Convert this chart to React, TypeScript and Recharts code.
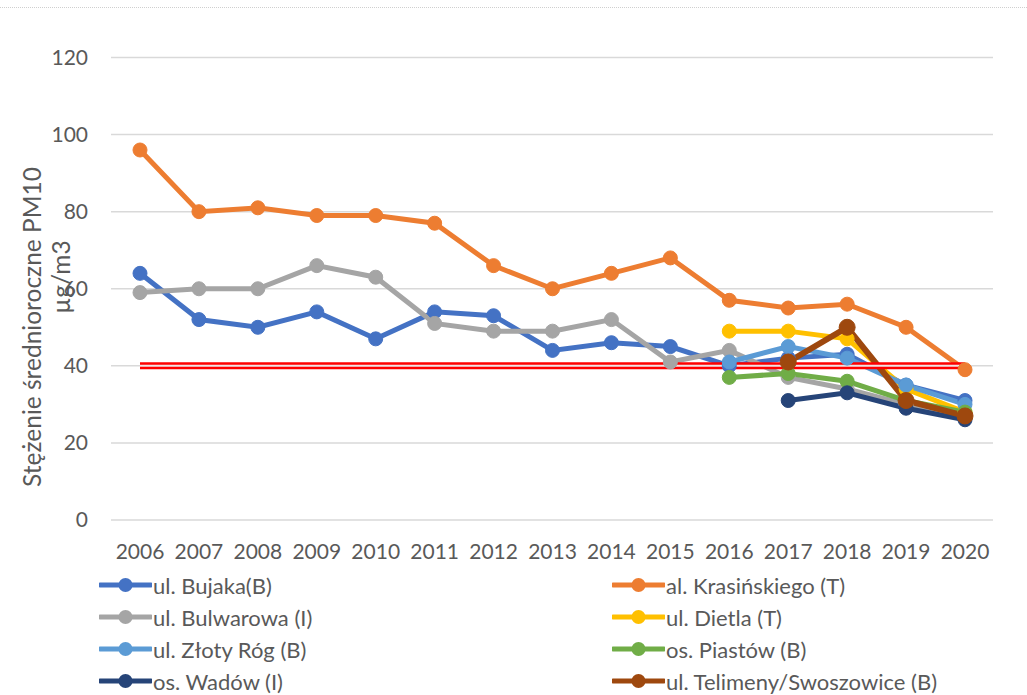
import React from "react";
import { CartesianGrid, Line, LineChart, XAxis, YAxis } from "recharts";

const years = [
  "2006", "2007", "2008", "2009", "2010", "2011", "2012", "2013",
  "2014", "2015", "2016", "2017", "2018", "2019", "2020",
];

const bujaka = [64, 52, 50, 54, 47, 54, 53, 44, 46, 45, 40, 42, 43, 35, 31];
const krasinskiego = [96, 80, 81, 79, 79, 77, 66, 60, 64, 68, 57, 55, 56, 50, 39];
const bulwarowa = [59, 60, 60, 66, 63, 51, 49, 49, 52, 41, 44, 37, 34, 30, 27];
const dietla = [null, null, null, null, null, null, null, null, null, null, 49, 49, 47, 34, 28];
const zlotyRog = [null, null, null, null, null, null, null, null, null, null, 41, 45, 42, 35, 30];
const piastow = [null, null, null, null, null, null, null, null, null, null, 37, 38, 36, 31, 28];
const wadow = [null, null, null, null, null, null, null, null, null, null, null, 31, 33, 29, 26];
const telimeny = [null, null, null, null, null, null, null, null, null, null, null, 41, 50, 31, 27];
const limit = [40, 40, 40, 40, 40, 40, 40, 40, 40, 40, 40, 40, 40, 40, 40];

const yTicks = [0, 20, 40, 60, 80, 100, 120];

const series = [
  { key: "bujaka", name: "ul. Bujaka(B)", color: "#4472C4", values: bujaka },
  { key: "krasinskiego", name: "al. Krasińskiego (T)", color: "#ED7D31", values: krasinskiego },
  { key: "bulwarowa", name: "ul. Bulwarowa (I)", color: "#A5A5A5", values: bulwarowa },
  { key: "dietla", name: "ul. Dietla (T)", color: "#FFC000", values: dietla },
  { key: "zlotyRog", name: "ul. Złoty Róg (B)", color: "#5B9BD5", values: zlotyRog },
  { key: "piastow", name: "os. Piastów (B)", color: "#70AD47", values: piastow },
  { key: "wadow", name: "os. Wadów (I)", color: "#264478", values: wadow },
  { key: "telimeny", name: "ul. Telimeny/Swoszowice (B)", color: "#9E480E", values: telimeny },
];

const data = years.map((year, i) => {
  const row: Record<string, string | number | null> = { year, limit: limit[i] };
  series.forEach((s) => {
    row[s.key] = s.values[i];
  });
  return row;
});

const font = "Lato, 'Open Sans', sans-serif";
const textColor = "#595959";

function AxisTitle() {
  return (
    <g>
      <text
        x={31}
        y={327}
        transform="rotate(-90 31 327)"
        textAnchor="middle"
        dominantBaseline="central"
        fill={textColor}
        fontSize={24.5}
        fontFamily={font}
      >
        Stężenie średnioroczne PM10
      </text>
      <text
        x={60}
        y={277}
        transform="rotate(-90 60 277)"
        textAnchor="middle"
        dominantBaseline="central"
        fill={textColor}
        fontSize={24.5}
        fontFamily={font}
      >
        µg/m3
      </text>
    </g>
  );
}

function LegendBox() {
  return (
    <div
      style={{
        position: "absolute",
        left: 0,
        top: 569,
        width: 1027,
        display: "grid",
        gridTemplateColumns: "512px 515px",
        fontFamily: font,
        fontSize: 22,
        color: textColor,
      }}
    >
      {series.map((s, i) => (
        <div
          key={s.key}
          style={{
            display: "flex",
            alignItems: "center",
            height: 32,
            paddingLeft: i % 2 === 0 ? 99 : 100,
          }}
        >
          <svg width={53} height={20} style={{ marginRight: 1 }}>
            <line x1={1} y1={10} x2={52} y2={10} stroke={s.color} strokeWidth={5} strokeLinecap="round" />
            <circle cx={26.5} cy={10} r={7} fill={s.color} />
          </svg>
          <span>{s.name}</span>
        </div>
      ))}
    </div>
  );
}

export default function App() {
  return (
    <div
      style={{
        position: "absolute",
        left: 0,
        top: 0,
        width: 1027,
        height: 695,
        background: "#ffffff",
      }}
    >
      <div
        style={{
          position: "absolute",
          left: 0,
          top: 7,
          width: 1027,
          borderTop: "1px dotted #cfcfcf",
        }}
      />
      <LineChart
        width={1027}
        height={695}
        data={data}
        margin={{ top: 57.5, right: 34, bottom: 125, left: 0 }}
      >
        <CartesianGrid vertical={false} stroke="#d9d9d9" strokeWidth={1.5} />
        <XAxis
          dataKey="year"
          height={50}
          axisLine={false}
          tickLine={false}
          tickSize={0}
          tickMargin={24}
          padding={{ left: 29, right: 28 }}
          interval={0}
          tick={{ fill: textColor, fontSize: 21, fontFamily: font }}
        />
        <YAxis
          width={111}
          domain={[0, 120]}
          ticks={yTicks}
          axisLine={false}
          tickLine={false}
          tickSize={0}
          tickMargin={23}
          tick={{ fill: textColor, fontSize: 21, fontFamily: font }}
        />
        {series.map((s) => (
          <Line
            key={s.key}
            type="linear"
            dataKey={s.key}
            name={s.name}
            stroke={s.color}
            strokeWidth={s.key === "telimeny" ? 6 : 5}
            dot={{ r: s.key === "telimeny" ? 8 : 7, fill: s.color, stroke: s.color, strokeWidth: 1 }}
            activeDot={false}
            connectNulls={false}
            isAnimationActive={false}
          />
        ))}
        <Line
          type="linear"
          dataKey="limit"
          stroke="#FF0000"
          strokeWidth={7}
          dot={false}
          activeDot={false}
          legendType="none"
          isAnimationActive={false}
        />
        <Line
          type="linear"
          dataKey="limit"
          stroke="#f0e4e4"
          strokeWidth={2}
          dot={false}
          activeDot={false}
          legendType="none"
          isAnimationActive={false}
        />
        <AxisTitle />
      </LineChart>
      <LegendBox />
    </div>
  );
}
